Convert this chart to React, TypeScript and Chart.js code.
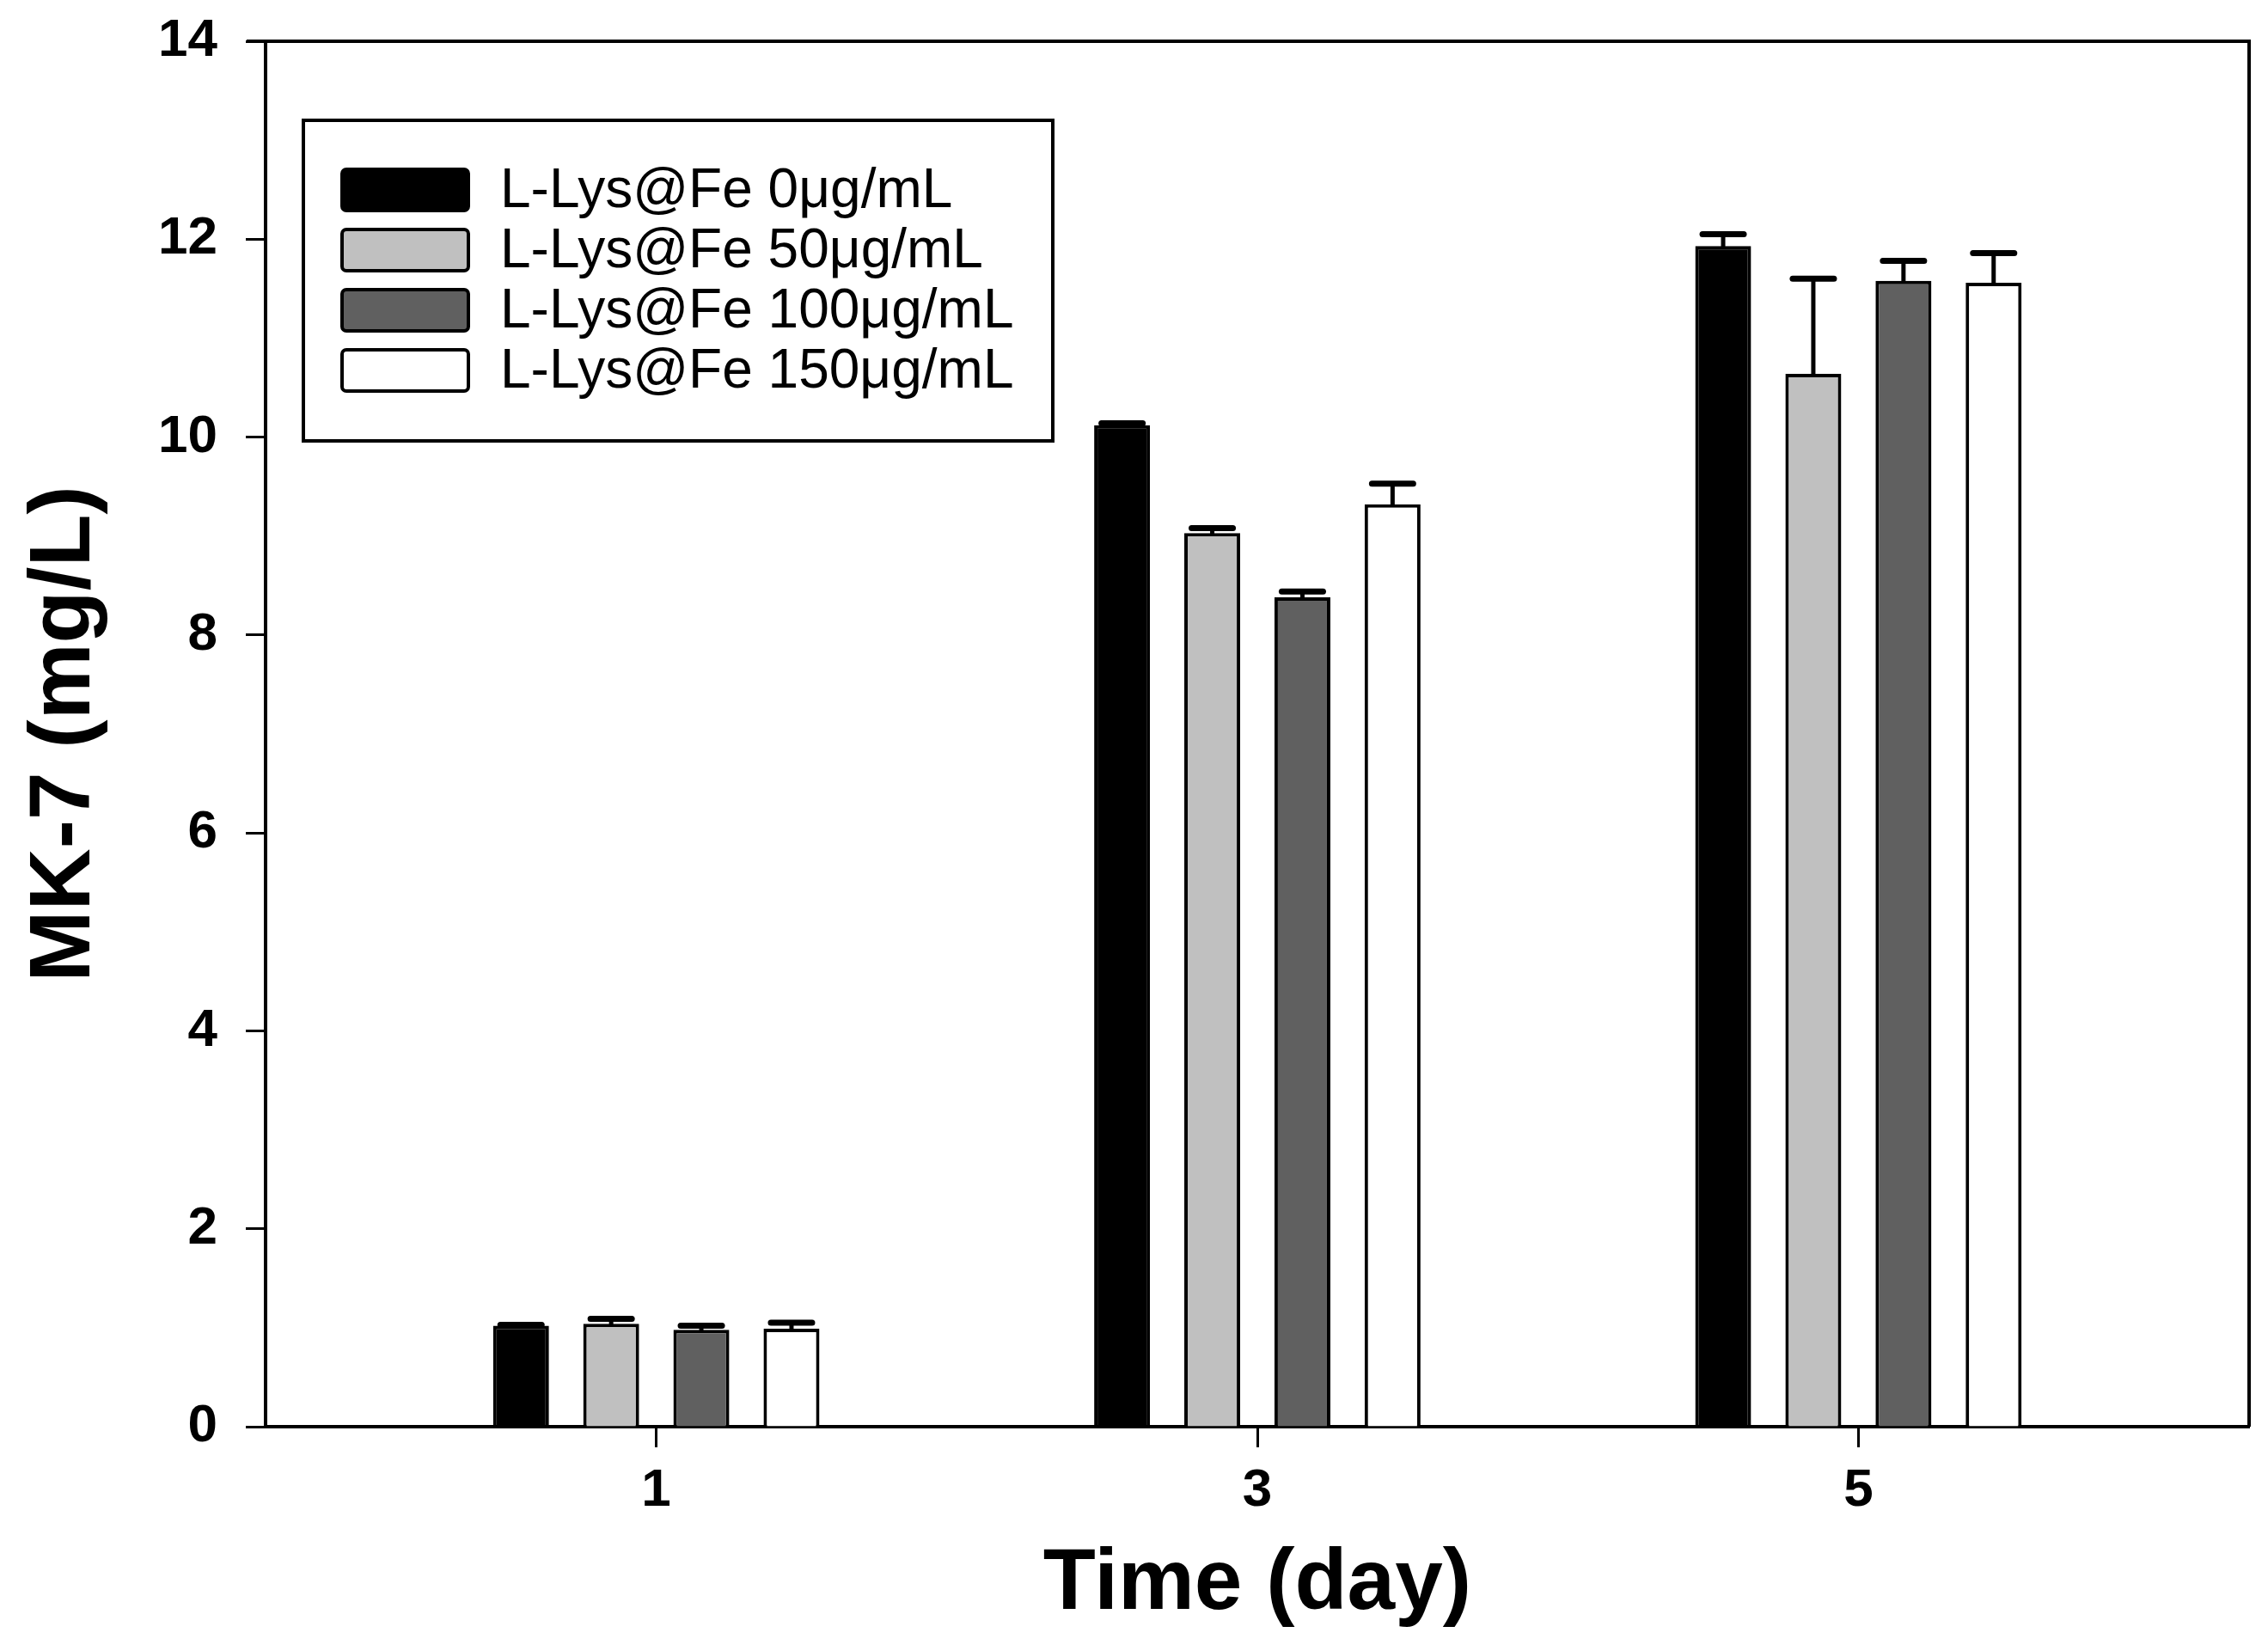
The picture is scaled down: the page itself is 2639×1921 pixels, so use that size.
import React, { useRef, useEffect } from 'react';
import Chart from 'chart.js/auto';

const days = [1, 3, 5];
const seriesLabels = ['L-Lys@Fe 0μg/mL', 'L-Lys@Fe 50μg/mL', 'L-Lys@Fe 100μg/mL', 'L-Lys@Fe 150μg/mL'];
const seriesColors = ['#000000', '#c0c0c0', '#606060', '#ffffff'];
const lys0 = [1.02, 10.12, 11.93];
const lys50 = [1.04, 9.03, 10.64];
const lys100 = [0.98, 8.38, 11.58];
const lys150 = [0.99, 9.32, 11.56];
const lys0Err = [0.01, 0.02, 0.12];
const lys50Err = [0.05, 0.05, 0.96];
const lys100Err = [0.04, 0.06, 0.2];
const lys150Err = [0.06, 0.21, 0.3];
const yTicks = [0, 2, 4, 6, 8, 10, 12, 14];

const seriesValues = [lys0, lys50, lys100, lys150];
const seriesErrors = [lys0Err, lys50Err, lys100Err, lys150Err];

const FONT = '"Liberation Sans", Arial, sans-serif';

// top and right sides of the frame
const framePlugin = {
  id: 'frame',
  afterDraw(chart: any) {
    const { ctx, chartArea } = chart;
    ctx.save();
    ctx.strokeStyle = '#000';
    ctx.lineWidth = 4;
    ctx.beginPath();
    ctx.moveTo(chartArea.left - 22, chartArea.top);
    ctx.lineTo(chartArea.right, chartArea.top);
    ctx.lineTo(chartArea.right, chartArea.bottom);
    ctx.stroke();
    ctx.restore();
  },
};

// upper error bars only
const errorBarPlugin = {
  id: 'errorBars',
  afterDatasetsDraw(chart: any) {
    const { ctx } = chart;
    const yScale = chart.scales.y;
    ctx.save();
    ctx.strokeStyle = '#000';
    ctx.lineCap = 'round';
    chart.data.datasets.forEach((ds: any, i: number) => {
      const meta = chart.getDatasetMeta(i);
      meta.data.forEach((bar: any, j: number) => {
        const v = seriesValues[i][j];
        const e = seriesErrors[i][j];
        const yTop = yScale.getPixelForValue(v);
        const yErr = yScale.getPixelForValue(v + e);
        ctx.lineWidth = 5;
        ctx.beginPath();
        ctx.moveTo(bar.x, yTop);
        ctx.lineTo(bar.x, yErr);
        ctx.stroke();
        ctx.lineWidth = 7;
        ctx.beginPath();
        ctx.moveTo(bar.x - 24, yErr);
        ctx.lineTo(bar.x + 24, yErr);
        ctx.stroke();
      });
    });
    ctx.restore();
  },
};

// legend box inside the plot
const legendPlugin = {
  id: 'boxLegend',
  afterDraw(chart: any) {
    const { ctx, chartArea } = chart;
    const bx = chartArea.left + 44;
    const by = chartArea.top + 92;
    ctx.save();
    ctx.strokeStyle = '#000';
    ctx.lineWidth = 4;
    ctx.strokeRect(bx, by, 872, 373);
    ctx.font = `64px ${FONT}`;
    ctx.textBaseline = 'middle';
    ctx.textAlign = 'left';
    seriesLabels.forEach((label, i) => {
      const sy = by + 57 + i * 70;
      ctx.fillStyle = seriesColors[i];
      ctx.lineWidth = 4;
      ctx.beginPath();
      ctx.roundRect(bx + 45, sy, 147, 48, 5);
      ctx.fill();
      ctx.stroke();
      ctx.fillStyle = '#000';
      ctx.fillText(label, bx + 229, sy + 26);
    });
    ctx.restore();
  },
};

const App: React.FC = () => {
  const canvasRef = useRef<HTMLCanvasElement | null>(null);

  useEffect(() => {
    if (!canvasRef.current) return;

    const chart = new Chart(canvasRef.current, {
      type: 'bar',
      data: {
        datasets: seriesLabels.map((label, i) => ({
          label,
          data: days.map((d, j) => ({ x: d, y: seriesValues[i][j] })),
          backgroundColor: seriesColors[i],
          borderColor: '#000',
          borderWidth: 4,
          categoryPercentage: 0.6,
          barPercentage: 0.62,
        })),
      },
      options: {
        animation: false,
        responsive: true,
        maintainAspectRatio: false,
        layout: { padding: { left: 0, right: 22, top: 48, bottom: 0 } },
        plugins: {
          legend: { display: false },
          tooltip: { enabled: false },
        },
        scales: {
          x: {
            type: 'linear',
            min: -0.3,
            max: 6.3,
            offset: false,
            afterBuildTicks: (scale: any) => {
              scale.ticks = days.map((d) => ({ value: d }));
            },
            afterFit: (scale: any) => {
              scale.height = 261;
              scale.paddingLeft = 0;
              scale.paddingRight = 0;
            },
            grid: {
              offset: false,
              drawOnChartArea: false,
              drawTicks: true,
              tickLength: 24,
              tickWidth: 3,
              tickColor: '#000',
            },
            border: { display: true, color: '#000', width: 4 },
            ticks: {
              color: '#000',
              padding: 14,
              font: { family: FONT, size: 62, weight: 'bold', lineHeight: 1.2 },
              callback: (v: any) => String(v),
            },
            title: {
              display: true,
              text: 'Time (day)',
              color: '#000',
              padding: { top: 0, bottom: 27 },
              font: { family: FONT, size: 100, weight: 'bold', lineHeight: 1 },
            },
          },
          y: {
            min: 0,
            max: 14,
            afterBuildTicks: (scale: any) => {
              scale.ticks = yTicks.map((v) => ({ value: v }));
            },
            afterFit: (scale: any) => {
              scale.width = 309;
              scale.paddingTop = 0;
              scale.paddingBottom = 0;
            },
            grid: {
              drawOnChartArea: false,
              drawTicks: true,
              tickLength: 23,
              tickWidth: 3,
              tickColor: '#000',
            },
            border: { display: true, color: '#000', width: 4 },
            ticks: {
              color: '#000',
              padding: 33,
              font: { family: FONT, size: 62, weight: 'bold' },
            },
            title: {
              display: true,
              text: 'MK-7 (mg/L)',
              color: '#000',
              padding: { top: 26, bottom: 0 },
              font: { family: FONT, size: 100, weight: 'bold', lineHeight: 1 },
            },
          },
        },
      } as any,
      plugins: [framePlugin, errorBarPlugin, legendPlugin],
    });

    return () => {
      chart.destroy();
    };
  }, []);

  return (
    <div style={{ position: 'fixed', left: 0, top: 0, width: '2639px', height: '1921px', background: '#fff' }}>
      <canvas ref={canvasRef}></canvas>
    </div>
  );
};

export default App;
